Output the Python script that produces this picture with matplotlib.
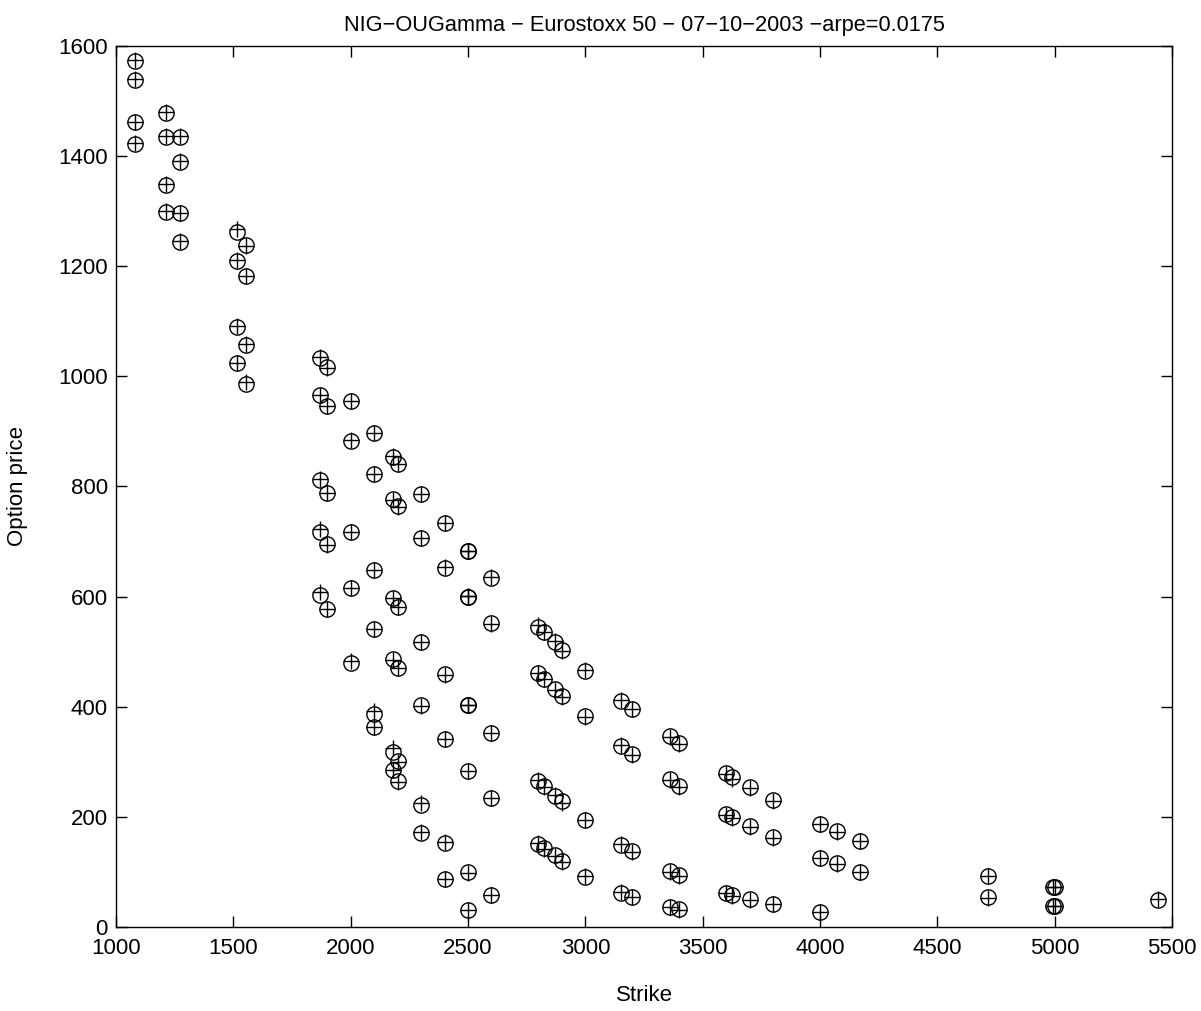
import matplotlib
matplotlib.use("Agg")
import matplotlib.pyplot as plt
import numpy as np

plt.rcParams["font.family"] = ["Liberation Sans", "DejaVu Sans"]

# strike / market price / model price, grouped by strike
strikes = [
    1081.82, 1081.82, 1081.82, 1081.82,
    1212.12, 1212.12, 1212.12, 1212.12,
    1272.73, 1272.73, 1272.73, 1272.73,
    1514.10, 1514.10, 1514.10, 1514.10,
    1555.06, 1555.06, 1555.06, 1555.06,
    1870.25, 1870.25, 1870.25, 1870.25, 1870.25,
    1900, 1900, 1900, 1900, 1900,
    2000, 2000, 2000, 2000, 2000,
    2100, 2100, 2100, 2100, 2100, 2100,
    2178.41, 2178.41, 2178.41, 2178.41, 2178.41, 2178.41,
    2200, 2200, 2200, 2200, 2200, 2200,
    2300, 2300, 2300, 2300, 2300, 2300,
    2400, 2400, 2400, 2400, 2400, 2400,
    2499.76, 2499.76, 2499.76,
    2500, 2500, 2500, 2500, 2500, 2500,
    2600, 2600, 2600, 2600, 2600,
    2800, 2800, 2800, 2800,
    2822.06, 2822.06, 2822.06, 2822.06,
    2870.99, 2870.99, 2870.99, 2870.99,
    2900, 2900, 2900, 2900,
    3000, 3000, 3000, 3000,
    3153.69, 3153.69, 3153.69, 3153.69,
    3200, 3200, 3200, 3200,
    3360.06, 3360.06, 3360.06, 3360.06,
    3400, 3400, 3400, 3400,
    3600, 3600, 3600,
    3626.57, 3626.57, 3626.57,
    3700, 3700, 3700,
    3800, 3800, 3800,
    4000, 4000, 4000,
    4070.48, 4070.48,
    4170.22, 4170.22,
    4714.88, 4714.88,
    4990.55, 4990.55,
    5000, 5000,
    5440.67,
]

market = [
    1573, 1538, 1462, 1422,
    1479, 1435, 1347, 1299,
    1434, 1389, 1296, 1244,
    1262, 1210, 1090, 1024,
    1239, 1182, 1057, 987,
    1034, 966, 812, 718, 603,
    1017, 947, 789, 695, 577,
    955, 883, 718, 616, 480,
    897, 822, 648, 542, 386, 364,
    854, 777, 597, 486, 318, 286,
    840, 764, 582, 471, 301, 266,
    786, 706, 518, 403, 221, 170,
    733, 652, 459, 341, 153, 87,
    682, 600, 403,
    682, 600, 403, 284, 99, 31,
    634, 552, 353, 234, 58,
    545, 461, 266, 151,
    535, 451, 256, 143,
    517, 432, 238, 131,
    503, 420, 228, 119,
    465, 383, 194, 91,
    411, 329, 149, 61,
    396, 315, 138, 55,
    346, 268, 101, 36,
    334, 256, 94, 32,
    279, 206, 62,
    272, 200, 58,
    254, 183, 50,
    231, 164, 42,
    187, 126, 28,
    175, 116,
    157, 100,
    93, 54,
    72, 39,
    72, 39,
    49,
]

model = [
    1575, 1540, 1462, 1424,
    1481, 1437, 1349, 1300,
    1437, 1391, 1296, 1245,
    1267, 1212, 1092, 1024,
    1236, 1183, 1059, 989,
    1036, 967, 814, 722, 608,
    1016, 947, 789, 694, 577,
    955, 884, 717, 616, 483,
    898, 822, 648, 541, 392, 364,
    855, 776, 597, 485, 325, 285,
    840, 763, 581, 470, 300, 264,
    787, 706, 518, 402, 225, 172,
    734, 653, 458, 341, 154, 88,
    683, 601, 403,
    683, 601, 403, 284, 98, 30,
    635, 551, 353, 234, 58,
    548, 462, 267, 153,
    536, 450, 255, 141,
    519, 431, 240, 129,
    502, 418, 226, 118,
    466, 382, 194, 93,
    412, 331, 150, 64,
    395, 313, 136, 54,
    345, 267, 100, 37,
    332, 255, 93, 31,
    277, 204, 61,
    268, 198, 57,
    252, 181, 49,
    229, 162, 42,
    187, 125, 27,
    173, 114,
    156, 99,
    92, 53,
    72, 39,
    72, 39,
    50,
]

fig = plt.figure(figsize=(12.01, 10.11), dpi=100)
ax = fig.add_axes([0.0966, 0.0831, 0.8793, 0.8714])

ax.plot(strikes, market, linestyle="none", marker="o", markersize=11,
        markerfacecolor="none", markeredgecolor="black", markeredgewidth=1.0)
ax.plot(strikes, model, linestyle="none", marker="+", markersize=12,
        color="black", markeredgewidth=1.0)

ax.set_xlim(1000, 5500)
ax.set_ylim(0, 1600)
ax.set_xticks(np.arange(1000, 5501, 500))
ax.set_yticks(np.arange(0, 1601, 200))

ax.tick_params(direction="in", length=8, width=1, top=True, right=True,
               labelsize=16)
ax.tick_params(axis="x", pad=8)
ax.tick_params(axis="y", pad=6)
for s in ax.spines.values():
    s.set_linewidth(1)

ax.set_xlabel("Strike", fontsize=16, labelpad=19)
ax.set_ylabel("Option price", fontsize=16, labelpad=22)
ax.set_title("NIG\u2212OUGamma \u2212 Eurostoxx 50 \u2212 07\u221210\u22122003 \u2212arpe=0.0175",
             fontsize=15.7, pad=11)

fig.savefig("out.png", dpi=100, facecolor="white")
